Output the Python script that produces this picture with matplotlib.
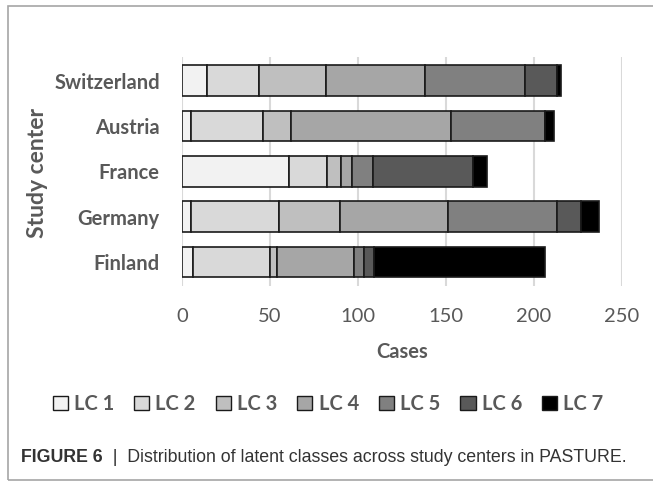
import matplotlib
matplotlib.use("Agg")
import matplotlib.pyplot as plt
from matplotlib.patches import Patch, Rectangle
import numpy as np

centers = ["Finland", "Germany", "France", "Austria", "Switzerland"]
series_names = ["LC 1", "LC 2", "LC 3", "LC 4", "LC 5", "LC 6", "LC 7"]
lc1 = [6, 5, 61, 5, 14]
lc2 = [44, 50, 21.5, 41, 30]
lc3 = [4, 35, 8, 16, 38]
lc4 = [44, 61, 6, 91, 56]
lc5 = [5.5, 62, 12, 53, 57]
lc6 = [5.5, 13.5, 57, 0, 18]
lc7 = [97, 10.5, 8, 5.5, 2.5]
series = [lc1, lc2, lc3, lc4, lc5, lc6, lc7]
colors = ["#f2f2f2", "#d9d9d9", "#bfbfbf", "#a6a6a6", "#808080", "#595959", "#000000"]
xticks = [0, 50, 100, 150, 200, 250]

W, H = 653, 484
fig = plt.figure(figsize=(W / 100, H / 100), dpi=100)
ax = fig.add_axes([182 / W, 1 - 286 / H, (622 - 182) / W, (286 - 57) / H])

label_color = "#595959"
font = "Lato"

y = np.arange(len(centers))
left = np.zeros(len(centers))
for vals, c, name in zip(series, colors, series_names):
    vals = np.array(vals, dtype=float)
    ax.barh(y, vals, left=left, height=0.68, color=c, edgecolor="#1a1a1a",
            linewidth=1.2, label=name, zorder=3)
    left += vals

ax.set_xlim(0, 250)
ax.set_ylim(-0.53, 4.52)
ax.set_xticks(xticks)
ax.set_xticklabels([str(t) for t in xticks], fontsize=14.5, color=label_color,
                   fontfamily=font)
ax.set_yticks(y)
ax.set_yticklabels(centers, fontsize=14.5, color=label_color, fontfamily=font,
                   fontweight="bold")
ax.tick_params(axis="both", length=0)
ax.tick_params(axis="y", pad=16)
ax.tick_params(axis="x", pad=16)
ax.grid(axis="x", color="#d9d9d9", linewidth=1.5, zorder=0)
for s in ax.spines.values():
    s.set_visible(False)

ax.set_xlabel("Cases", fontsize=14.5, fontweight="bold", color=label_color,
              fontfamily=font, labelpad=12)
fig.text(38 / W, 1 - 173 / H, "Study center", rotation=90, fontsize=16.5,
         fontweight="bold", color=label_color, fontfamily=font,
         ha="center", va="center")

handles = [Patch(facecolor=c, edgecolor="#1a1a1a", linewidth=1.0) for c in colors]
leg = fig.legend(handles, series_names, loc="center", bbox_to_anchor=(328 / W, 1 - 404 / H),
                 ncol=7, frameon=False, handlelength=0.75, handleheight=0.75,
                 handletextpad=0.3, columnspacing=1.0,
                 prop={"family": font, "weight": "bold", "size": 14.5})
for t in leg.get_texts():
    t.set_color(label_color)

# outer border
fig.add_artist(Rectangle((8 / W, 1 - 480 / H), (W + 10 - 8) / W, (480 - 6) / H,
                         transform=fig.transFigure, fill=False,
                         edgecolor="#a6a6a6", linewidth=1.2, clip_on=False))

t1 = fig.text(21 / W, 1 - 458 / H, "FIGURE 6", fontsize=12.8, fontweight="bold",
              color="#333333", fontfamily="Liberation Sans", va="center", ha="left")
ax.annotate("  |  Distribution of latent classes across study centers in PASTURE.",
            xy=(1, 0.5), xycoords=t1, va="center", ha="left", fontsize=12.8,
            color="#333333", fontfamily="Liberation Sans", annotation_clip=False)

fig.savefig("out.png", dpi=100)
